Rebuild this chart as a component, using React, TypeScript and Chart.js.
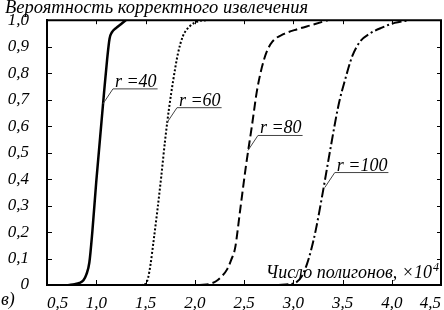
import { useEffect, useRef } from "react";
import { Chart, registerables } from "chart.js";

Chart.register(...registerables);

const xTicks = [0.5, 1.0, 1.5, 2.0, 2.5, 3.0, 3.5, 4.0, 4.5];
const yTicks = [0, 0.1, 0.2, 0.3, 0.4, 0.5, 0.6, 0.7, 0.8, 0.9, 1.0];

const r40X = [0.72, 0.78, 0.83, 0.87, 0.9, 0.93, 0.96, 1.0, 1.04, 1.08, 1.11, 1.135, 1.16, 1.2, 1.25, 1.3];
const r40Y = [0, 0.003, 0.008, 0.018, 0.04, 0.085, 0.2, 0.39, 0.56, 0.73, 0.85, 0.93, 0.955, 0.97, 0.985, 1.0];

const r60X = [1.45, 1.5, 1.525, 1.55, 1.58, 1.62, 1.66, 1.7, 1.74, 1.78, 1.83, 1.88, 1.95, 2.03, 2.12];
const r60Y = [0, 0.004, 0.025, 0.075, 0.16, 0.28, 0.41, 0.55, 0.67, 0.77, 0.875, 0.94, 0.977, 0.995, 1.0];

const r80X = [2.05, 2.15, 2.22, 2.28, 2.33, 2.37, 2.41, 2.46, 2.52, 2.58, 2.63, 2.68, 2.73, 2.79, 2.9, 3.04, 3.2, 3.35];
const r80Y = [0, 0.004, 0.015, 0.035, 0.06, 0.095, 0.14, 0.28, 0.45, 0.6, 0.73, 0.82, 0.88, 0.92, 0.947, 0.966, 0.983, 1.0];

const r100X = [2.85, 2.95, 3.03, 3.09, 3.14, 3.18, 3.23, 3.3, 3.38, 3.46, 3.53, 3.6, 3.68, 3.78, 3.9, 4.03, 4.18];
const r100Y = [0, 0.003, 0.01, 0.035, 0.08, 0.13, 0.21, 0.35, 0.52, 0.68, 0.78, 0.865, 0.92, 0.95, 0.972, 0.99, 1.0];

const seriesLabels = ["r =40", "r =60", "r =80", "r =100"];
const labelAnchorX = [1.068, 1.718, 2.54, 3.32];
const labelAnchorY = [0.684, 0.613, 0.508, 0.368];

const yTitle = "Вероятность корректного извлечения";
const xTitle = "Число полигонов, ×10";
const xTitleSup = "4";
const panelLabel = "в)";

const FONT = "'Liberation Serif', 'Times New Roman', serif";

const fmt = (v: number) => (v === 0 ? "0" : v.toFixed(1).replace(".", ","));
const pts = (xs: number[], ys: number[]) => xs.map((x, i) => ({ x, y: ys[i] }));

export default function App() {
  const ref = useRef<HTMLCanvasElement | null>(null);
  useEffect(() => {
    document.body.style.margin = "0";
    const canvas = ref.current;
    if (!canvas) return;
    let chart: Chart | null = null;
    let cancelled = false;

    const overlay = {
      id: "overlay",
      afterDraw(c: any) {
        const ctx = c.ctx as CanvasRenderingContext2D;
        const a = c.chartArea;
        const xs = c.scales.x;
        const ys = c.scales.y;
        ctx.save();
        ctx.strokeStyle = "#000";
        ctx.lineWidth = 2;
        ctx.beginPath();
        ctx.moveTo(a.left, a.top);
        ctx.lineTo(a.right, a.top);
        ctx.lineTo(a.right, a.bottom);
        ctx.stroke();
        ctx.lineWidth = 1;
        ctx.beginPath();
        xTicks.forEach((v) => {
          const px = Math.round(xs.getPixelForValue(v)) + 0.5;
          ctx.moveTo(px, a.bottom);
          ctx.lineTo(px, a.bottom - 5);
          ctx.moveTo(px, a.top);
          ctx.lineTo(px, a.top + 4);
        });
        yTicks.forEach((v) => {
          const py = Math.round(ys.getPixelForValue(v)) + 0.5;
          ctx.moveTo(a.left, py);
          ctx.lineTo(a.left + 5, py);
          ctx.moveTo(a.right, py);
          ctx.lineTo(a.right - 4, py);
        });
        ctx.stroke();

        ctx.fillStyle = "#000";
        ctx.textBaseline = "alphabetic";
        ctx.font = `italic 18.5px ${FONT}`;
        ctx.textAlign = "left";
        ctx.fillText(yTitle, 5, 13);
        ctx.font = `italic 12px ${FONT}`;
        const supW = ctx.measureText(xTitleSup).width;
        ctx.fillText(xTitleSup, a.right - 2 - supW, 271);
        ctx.font = `italic 18px ${FONT}`;
        ctx.textAlign = "right";
        ctx.fillText(xTitle, a.right - 3 - supW, 278);
        ctx.textAlign = "left";
        ctx.fillText(panelLabel, 1, 305);

        ctx.font = `italic 18px ${FONT}`;
        seriesLabels.forEach((t, i) => {
          const ax = xs.getPixelForValue(labelAnchorX[i]);
          const ay = ys.getPixelForValue(labelAnchorY[i]);
          const ex = ax + 10;
          const ey = ay - 15;
          const w = ctx.measureText(t).width + 3;
          ctx.strokeStyle = "#444";
          ctx.lineWidth = 1;
          ctx.beginPath();
          ctx.moveTo(ax, ay);
          ctx.lineTo(ex, ey);
          ctx.lineTo(ex + w, ey);
          ctx.stroke();
          ctx.fillText(t, ex + 2, ey - 2);
        });
        ctx.restore();
      },
    };

    const common = {
      showLine: true,
      fill: false,
      pointRadius: 0,
      borderColor: "#000",
      cubicInterpolationMode: "monotone" as const,
    };

    const build = () => {
      if (cancelled) return;
      chart = new Chart(canvas, {
        type: "scatter",
        data: {
          datasets: [
            { ...common, label: seriesLabels[0], data: pts(r40X, r40Y), borderWidth: 2.5 },
            { ...common, label: seriesLabels[1], data: pts(r60X, r60Y), borderWidth: 2, borderDash: [2, 2] },
            { ...common, label: seriesLabels[2], data: pts(r80X, r80Y), borderWidth: 2, borderDash: [9, 4] },
            { ...common, label: seriesLabels[3], data: pts(r100X, r100Y), borderWidth: 2, borderDash: [10, 3, 2, 3] },
          ],
        },
        options: {
          animation: false,
          responsive: false,
          layout: { padding: { top: 19, right: 3, left: 0, bottom: 0 } },
          plugins: { legend: { display: false }, tooltip: { enabled: false } },
          scales: {
            x: {
              type: "linear",
              min: 0.5,
              max: 4.5,
              afterBuildTicks: (s: any) => {
                s.ticks = xTicks.map((v) => ({ value: v }));
              },
              afterFit: (s: any) => {
                s.height = 25;
              },
              grid: { display: false },
              border: { display: true, color: "#000", width: 2 },
              ticks: {
                align: "inner",
                autoSkip: false,
                maxRotation: 0,
                padding: 0,
                color: "#000",
                font: { family: FONT, size: 17, style: "italic" },
                callback: (v: any) => fmt(Number(v)),
              },
            },
            y: {
              type: "linear",
              min: 0,
              max: 1,
              afterBuildTicks: (s: any) => {
                s.ticks = yTicks.map((v) => ({ value: v }));
              },
              afterFit: (s: any) => {
                s.width = 47;
              },
              grid: { display: false },
              border: { display: true, color: "#000", width: 2 },
              ticks: {
                autoSkip: false,
                padding: 10,
                color: "#000",
                font: { family: FONT, size: 17, style: "italic" },
                callback: (v: any) => fmt(Number(v)),
              },
            },
          },
        },
        plugins: [overlay],
      });
    };

    const fonts: any = (document as any).fonts;
    if (fonts && fonts.load) {
      Promise.all([
        fonts.load(`italic 16px 'Liberation Serif'`),
        fonts.load(`16px 'Liberation Serif'`),
      ])
        .catch(() => null)
        .then(build);
    } else {
      build();
    }
    return () => {
      cancelled = true;
      if (chart) chart.destroy();
    };
  }, []);
  return (
    <div style={{ width: 444, height: 310 }}>
      <canvas ref={ref} width={444} height={310} />
    </div>
  );
}
